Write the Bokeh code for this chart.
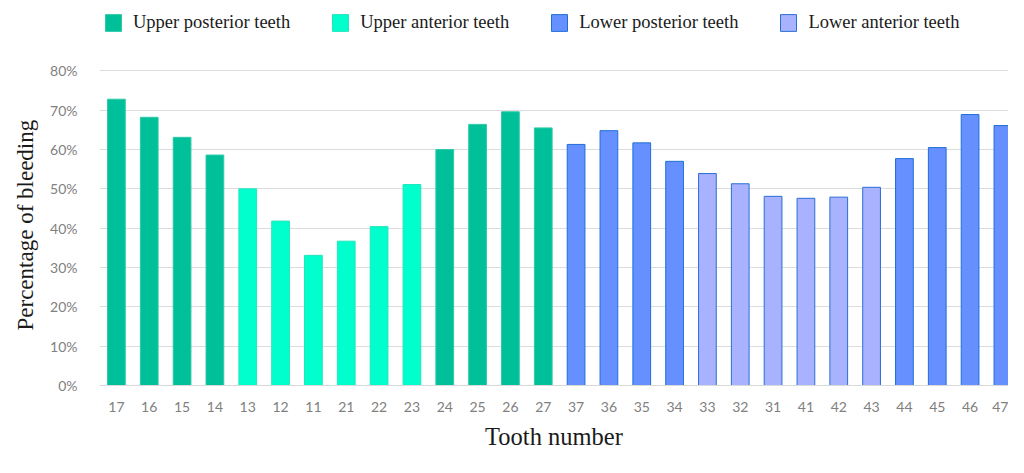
from bokeh.plotting import figure
from bokeh.models import ColumnDataSource, Range1d, FixedTicker, PrintfTickFormatter, Legend, LegendItem, Title
from bokeh.embed import file_html
from bokeh.resources import INLINE

teeth = ["17", "16", "15", "14", "13", "12", "11", "21", "22", "23", "24", "25", "26", "27",
         "37", "36", "35", "34", "33", "32", "31", "41", "42", "43", "44", "45", "46", "47"]
bleeding = [72.8, 68.2, 63.1, 58.6, 50.0, 41.8, 33.1, 36.7, 40.4, 51.1, 60.0, 66.4, 69.6, 65.5,
            61.3, 64.8, 61.7, 57.0, 53.9, 51.3, 48.1, 47.6, 47.9, 50.4, 57.7, 60.5, 68.9, 66.1]
group = ["Upper posterior teeth"] * 4 + ["Upper anterior teeth"] * 6 + ["Upper posterior teeth"] * 4 \
      + ["Lower posterior teeth"] * 4 + ["Lower anterior teeth"] * 6 + ["Lower posterior teeth"] * 4
group_names = ["Upper posterior teeth", "Upper anterior teeth", "Lower posterior teeth", "Lower anterior teeth"]
fills = ["#00C09A", "#00FFCC", "#6690FF", "#A8B2FF"]
lines = ["#2ccaa8", "#22e6bb", "#1f6fd6", "#2a6fd4"]
y_ticks = [0, 10, 20, 30, 40, 50, 60, 70, 80]

W, H = 1008, 452
# the frame's top reaches into the legend strip; gridlines and ticks stop at 80%
p = figure(width=W, height=H, output_backend="svg", toolbar_location=None,
           x_range=Range1d(-0.515, 27.17), y_range=Range1d(0, 97.9))
p.min_border_left = 94
p.min_border_right = 0
p.min_border_top = 0
p.min_border_bottom = 64
p.outline_line_color = None

items = []
for g, fc, lc in zip(group_names, fills, lines):
    idx = [i for i, gg in enumerate(group) if gg == g]
    src = ColumnDataSource(dict(x=idx, top=[bleeding[i] for i in idx]))
    r = p.vbar(x="x", top="top", width=0.54, source=src, fill_color=fc, line_color=lc, line_width=1)
    items.append(LegendItem(label=g, renderers=[r]))

legend = Legend(items=items, orientation="horizontal", location=(4, 352))
legend.glyph_width = 20
legend.glyph_height = 21
legend.label_standoff = 10
legend.spacing = 40
legend.padding = 0
legend.margin = 0
legend.border_line_color = None
legend.background_fill_alpha = 0
legend.label_text_font = "Liberation Serif"
legend.label_text_font_size = "18.5px"
legend.label_text_color = "#1a1a1a"
p.add_layout(legend, "center")

p.xaxis.ticker = FixedTicker(ticks=list(range(len(teeth))))
p.xaxis.major_label_overrides = {i: t for i, t in enumerate(teeth)}
p.xaxis.major_tick_line_color = None
p.xaxis.minor_tick_line_color = None
p.xaxis.axis_line_color = "#d9d9d9"
p.xaxis.major_label_text_font = "Lato"
p.xaxis.major_label_text_font_size = "14px"
p.xaxis.major_label_text_color = "#808080"
p.xaxis.major_label_standoff = 10
p.xaxis.axis_label = "Tooth number"
p.xaxis.axis_label_text_font = "Liberation Serif"
p.xaxis.axis_label_text_font_size = "24.5px"
p.xaxis.axis_label_text_font_style = "normal"
p.xaxis.axis_label_text_color = "#1a1a1a"
p.xaxis.axis_label_standoff = 8

p.yaxis.ticker = FixedTicker(ticks=y_ticks)
p.yaxis.formatter = PrintfTickFormatter(format="%d%%")
p.yaxis.major_tick_line_color = None
p.yaxis.minor_tick_line_color = None
p.yaxis.axis_line_color = None
p.yaxis.major_label_text_font = "Lato"
p.yaxis.major_label_text_font_size = "14px"
p.yaxis.major_label_text_color = "#808080"
p.yaxis.major_label_standoff = 16

ytitle = Title(text="Percentage of bleeding", align="left", offset=55,
               text_font="Liberation Serif", text_font_size="23px", text_font_style="normal",
               text_color="#1a1a1a", standoff=20)
p.add_layout(ytitle, "left")

p.xgrid.grid_line_color = None
p.ygrid.grid_line_color = "#dcdcdc"
p.ygrid.grid_line_width = 1

open("out.html", "w").write(file_html(p, INLINE))
